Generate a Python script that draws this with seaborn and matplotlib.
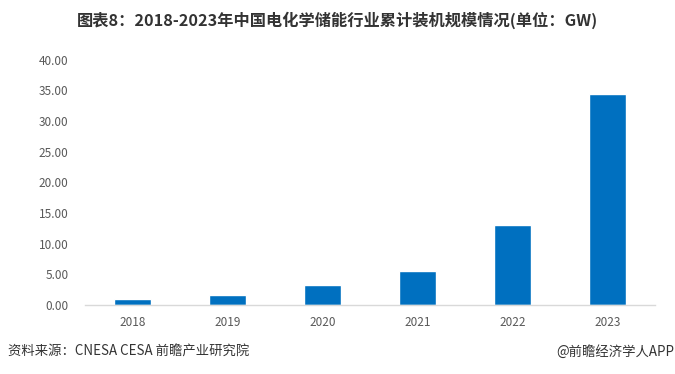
import numpy as np
import pandas as pd
import matplotlib
matplotlib.use("Agg")
import matplotlib.pyplot as plt
import seaborn as sns
from matplotlib.ticker import FormatStrFormatter

# data (GW)
years = ["2018", "2019", "2020", "2021", "2022", "2023"]
capacity = [1.0, 1.7, 3.2, 5.5, 13.0, 34.5]
title = "图表8：2018-2023年中国电化学储能行业累计装机规模情况(单位：GW)"
source = "资料来源：CNESA CESA 前瞻产业研究院"
credit = "@前瞻经济学人APP"

df = pd.DataFrame({"year": years, "capacity": capacity})

sns.set_style("white")
plt.rcParams["font.family"] = ["Noto Sans CJK SC", "DejaVu Sans"]

fig = plt.figure(figsize=(6.75, 3.74), dpi=100)
ax = fig.add_axes([0.126, 0.1845, 0.844, 0.6555])

sns.barplot(data=df, x="year", y="capacity", color="#0070C0", saturation=1,
            width=0.39, ax=ax)

ax.set_ylim(0, 40)
ax.set_yticks(np.arange(0, 41, 5))
ax.yaxis.set_major_formatter(FormatStrFormatter("%.2f"))
ax.set_xlim(-0.5, len(years) - 0.5)
ax.set_xlabel("")
ax.set_ylabel("")
for s in ["top", "right", "left"]:
    ax.spines[s].set_visible(False)
ax.spines["bottom"].set_color("#D9D9D9")
ax.spines["bottom"].set_linewidth(1.0)
ax.tick_params(axis="both", length=0, labelsize=8.5, labelcolor="#595959")
ax.tick_params(axis="y", pad=12)
ax.tick_params(axis="x", pad=8)

fig.text(0.5, 0.947, title, ha="center", va="center", fontsize=11.7,
         fontweight="bold", color="#333333")
fig.text(0.012, 0.06, source, ha="left", va="center", fontsize=9.6, color="#333333")
fig.text(0.999, 0.06, credit, ha="right", va="center", fontsize=9.6, color="#333333")

fig.savefig("out.png", dpi=100)
